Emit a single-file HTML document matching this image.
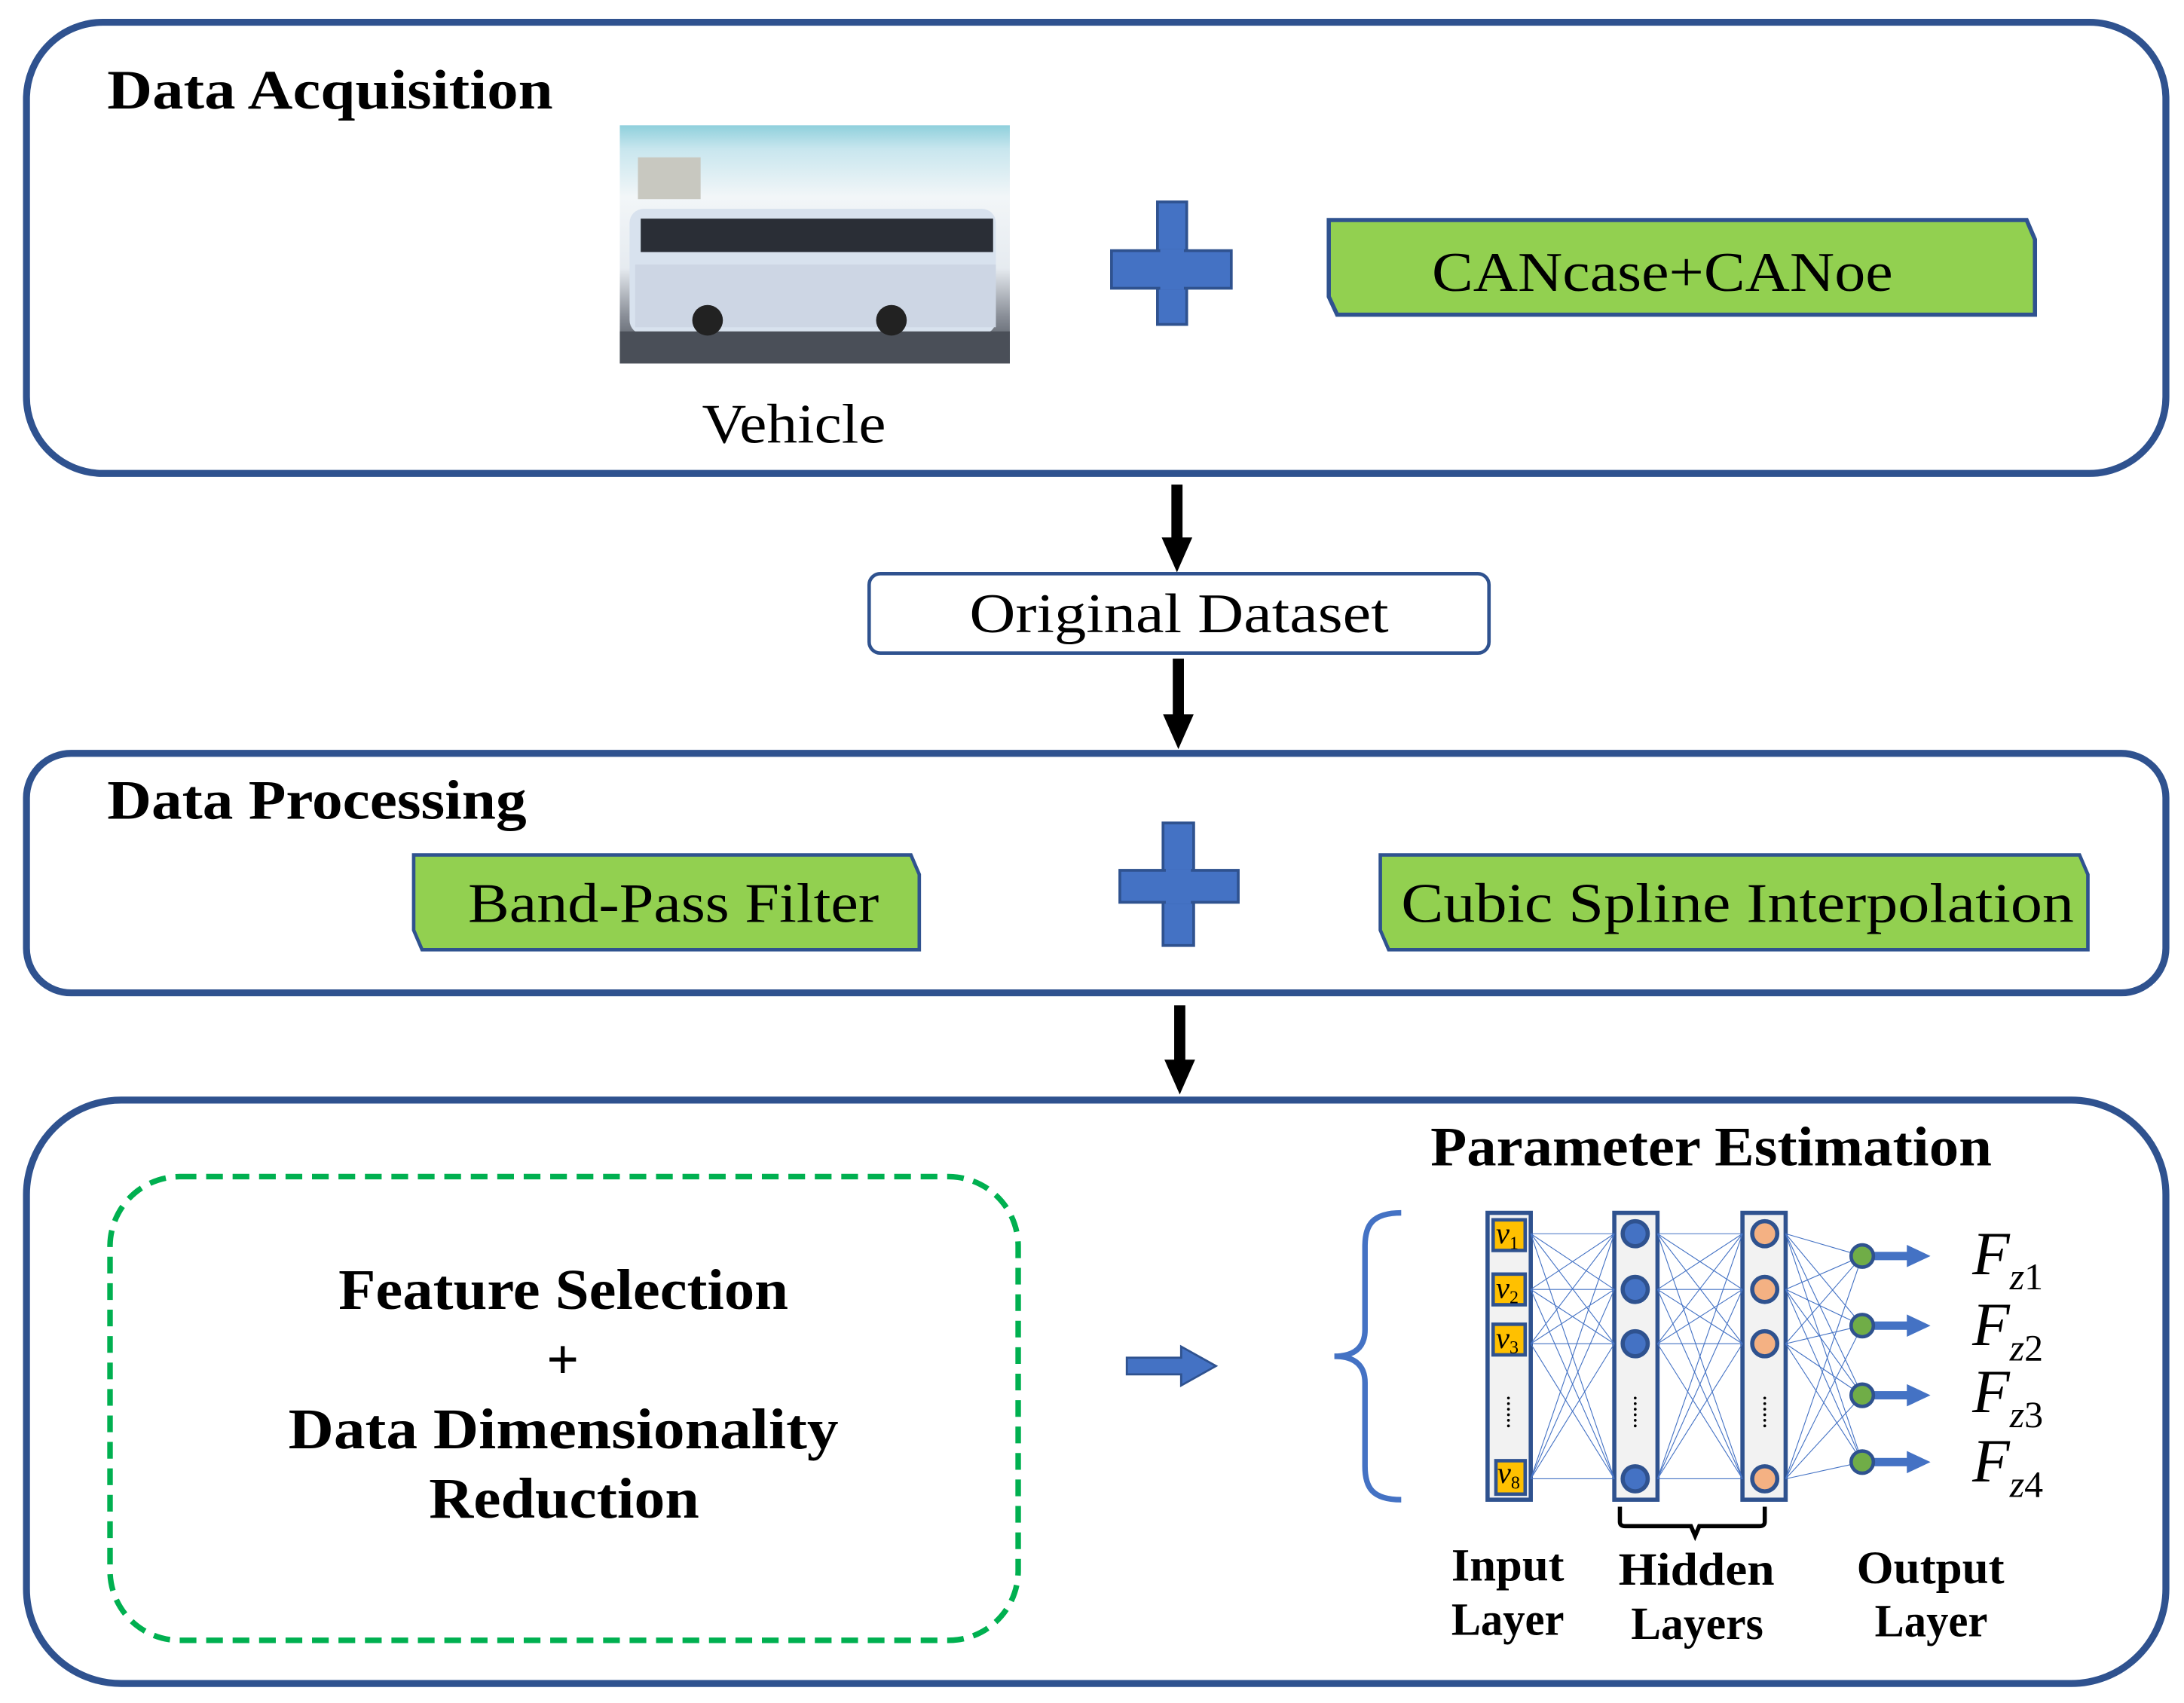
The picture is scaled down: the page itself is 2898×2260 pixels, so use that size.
<!DOCTYPE html>
<html><head><meta charset="utf-8"><style>
html,body{margin:0;padding:0;background:#fff;}
svg{display:block;}
text{font-family:"Liberation Serif",serif;fill:#000;}
</style></head><body>
<svg width="2898" height="2260" viewBox="0 0 1568 1223" preserveAspectRatio="none" xmlns="http://www.w3.org/2000/svg">
<defs>
<linearGradient id="sky" x1="0" y1="0" x2="0" y2="1">
<stop offset="0" stop-color="#8fd0dc"/><stop offset="0.1" stop-color="#c8e6ee"/><stop offset="0.3" stop-color="#f2f6f8"/><stop offset="0.6" stop-color="#e6ebf0"/><stop offset="0.8" stop-color="#8a8f98"/><stop offset="1" stop-color="#3d434d"/>
</linearGradient>
</defs>
<rect x="19" y="16" width="1536" height="324" rx="55" fill="#fff" stroke="#2F528F" stroke-width="5"/>
<text x="77" y="78" font-size="40" font-weight="bold" textLength="320" lengthAdjust="spacingAndGlyphs">Data Acquisition</text>
<rect x="445" y="90" width="280" height="171" fill="url(#sky)"/>
<rect x="458" y="113" width="45" height="30" fill="#c8c8c0"/>
<rect x="452" y="150" width="263" height="90" rx="10" fill="#d8e2ee"/>
<rect x="460" y="157" width="253" height="24" fill="#2a2e36"/>
<rect x="456" y="190" width="259" height="45" fill="#cdd6e4"/>
<rect x="445" y="238" width="280" height="23" fill="#4a4f58"/>
<circle cx="508" cy="230" r="11" fill="#222"/><circle cx="640" cy="230" r="11" fill="#222"/>
<rect x="831" y="145" width="21" height="88" fill="#4472C4" stroke="#2F528F" stroke-width="2"/>
<rect x="798" y="180" width="86" height="27" fill="#4472C4" stroke="#2F528F" stroke-width="2"/>
<rect x="833" y="179" width="17" height="29" fill="#4472C4"/>
<polygon points="954,158 1455,158 1461,172 1461,226 960,226 954,213" fill="#92D050" stroke="#2F528F" stroke-width="3"/>
<text x="1028" y="209" font-size="40" textLength="331" lengthAdjust="spacingAndGlyphs">CANcase+CANoe</text>
<text x="504" y="318" font-size="40" textLength="132" lengthAdjust="spacingAndGlyphs">Vehicle</text>
<rect x="841" y="348" width="8" height="40" fill="#000"/>
<polygon points="834,386 856,386 845,411" fill="#000"/>
<rect x="624" y="412" width="445" height="57" rx="8" fill="#fff" stroke="#2F528F" stroke-width="2.5"/>
<text x="696" y="454" font-size="40" textLength="301" lengthAdjust="spacingAndGlyphs">Original Dataset</text>
<rect x="842" y="473" width="8" height="42" fill="#000"/>
<polygon points="835,513 857,513 846,538" fill="#000"/>
<rect x="19" y="541" width="1536" height="172" rx="32" fill="#fff" stroke="#2F528F" stroke-width="5"/>
<text x="77" y="588" font-size="40" font-weight="bold" textLength="301" lengthAdjust="spacingAndGlyphs">Data Processing</text>
<polygon points="297,614 654,614 660,628 660,682 303,682 297,668" fill="#92D050" stroke="#2F528F" stroke-width="2.5"/>
<text x="336" y="662" font-size="40" textLength="295" lengthAdjust="spacingAndGlyphs">Band-Pass Filter</text>
<rect x="835" y="591" width="22" height="88" fill="#4472C4" stroke="#2F528F" stroke-width="2"/>
<rect x="804" y="625" width="85" height="23" fill="#4472C4" stroke="#2F528F" stroke-width="2"/>
<rect x="837" y="624" width="18" height="25" fill="#4472C4"/>
<polygon points="991,614 1493,614 1499,628 1499,682 997,682 991,668" fill="#92D050" stroke="#2F528F" stroke-width="2.5"/>
<text x="1006" y="662" font-size="40" textLength="483" lengthAdjust="spacingAndGlyphs">Cubic Spline Interpolation</text>
<rect x="843" y="722" width="8" height="40" fill="#000"/>
<polygon points="836,761 858,761 847,786" fill="#000"/>
<rect x="19" y="790" width="1536" height="419" rx="68" fill="#fff" stroke="#2F528F" stroke-width="5"/>
<rect x="79" y="845" width="652" height="333" rx="50" fill="none" stroke="#00B050" stroke-width="4" stroke-dasharray="12,7"/>
<g font-size="41" font-weight="bold">
<text x="243" y="940" textLength="323" lengthAdjust="spacingAndGlyphs">Feature Selection</text>
<text x="404" y="990" text-anchor="middle">+</text>
<text x="207" y="1040" textLength="395" lengthAdjust="spacingAndGlyphs">Data Dimensionality</text>
<text x="308" y="1090" textLength="194" lengthAdjust="spacingAndGlyphs">Reduction</text>
</g>
<polygon points="809,975 848,975 848,967 873,981 848,995 848,987 809,987" fill="#4472C4" stroke="#2F528F" stroke-width="1.5"/>
<text x="1027" y="837" font-size="40" font-weight="bold" textLength="403" lengthAdjust="spacingAndGlyphs">Parameter Estimation</text>
<path d="M1006,871 C985,871 980,880 980,895 L980,955 C980,968 972,974 958,974 C972,974 980,980 980,993 L980,1053 C980,1068 985,1077 1006,1077" fill="none" stroke="#4472C4" stroke-width="4"/>
<rect x="1068" y="871" width="31" height="206" fill="#F2F2F2" stroke="#2F528F" stroke-width="3"/>
<rect x="1159" y="871" width="31" height="206" fill="#F2F2F2" stroke="#2F528F" stroke-width="3"/>
<rect x="1251" y="871" width="31" height="206" fill="#F2F2F2" stroke="#2F528F" stroke-width="3"/>
<g stroke="#4472C4" stroke-width="0.6">
<line x1="1099" y1="886" x2="1159" y2="886"/><line x1="1099" y1="886" x2="1159" y2="926"/><line x1="1099" y1="886" x2="1159" y2="965"/><line x1="1099" y1="886" x2="1159" y2="1062"/>
<line x1="1099" y1="926" x2="1159" y2="886"/><line x1="1099" y1="926" x2="1159" y2="926"/><line x1="1099" y1="926" x2="1159" y2="965"/><line x1="1099" y1="926" x2="1159" y2="1062"/>
<line x1="1099" y1="965" x2="1159" y2="886"/><line x1="1099" y1="965" x2="1159" y2="926"/><line x1="1099" y1="965" x2="1159" y2="965"/><line x1="1099" y1="965" x2="1159" y2="1062"/>
<line x1="1099" y1="1062" x2="1159" y2="886"/><line x1="1099" y1="1062" x2="1159" y2="926"/><line x1="1099" y1="1062" x2="1159" y2="965"/><line x1="1099" y1="1062" x2="1159" y2="1062"/>
<line x1="1190" y1="886" x2="1251" y2="886"/><line x1="1190" y1="886" x2="1251" y2="926"/><line x1="1190" y1="886" x2="1251" y2="965"/><line x1="1190" y1="886" x2="1251" y2="1062"/>
<line x1="1190" y1="926" x2="1251" y2="886"/><line x1="1190" y1="926" x2="1251" y2="926"/><line x1="1190" y1="926" x2="1251" y2="965"/><line x1="1190" y1="926" x2="1251" y2="1062"/>
<line x1="1190" y1="965" x2="1251" y2="886"/><line x1="1190" y1="965" x2="1251" y2="926"/><line x1="1190" y1="965" x2="1251" y2="965"/><line x1="1190" y1="965" x2="1251" y2="1062"/>
<line x1="1190" y1="1062" x2="1251" y2="886"/><line x1="1190" y1="1062" x2="1251" y2="926"/><line x1="1190" y1="1062" x2="1251" y2="965"/><line x1="1190" y1="1062" x2="1251" y2="1062"/>
<line x1="1282" y1="886" x2="1337" y2="902"/><line x1="1282" y1="886" x2="1337" y2="952"/><line x1="1282" y1="886" x2="1337" y2="1002"/><line x1="1282" y1="886" x2="1337" y2="1050"/>
<line x1="1282" y1="926" x2="1337" y2="902"/><line x1="1282" y1="926" x2="1337" y2="952"/><line x1="1282" y1="926" x2="1337" y2="1002"/><line x1="1282" y1="926" x2="1337" y2="1050"/>
<line x1="1282" y1="965" x2="1337" y2="902"/><line x1="1282" y1="965" x2="1337" y2="952"/><line x1="1282" y1="965" x2="1337" y2="1002"/><line x1="1282" y1="965" x2="1337" y2="1050"/>
<line x1="1282" y1="1062" x2="1337" y2="902"/><line x1="1282" y1="1062" x2="1337" y2="952"/><line x1="1282" y1="1062" x2="1337" y2="1002"/><line x1="1282" y1="1062" x2="1337" y2="1050"/>
</g>
<g fill="#FFC000" stroke="#2F528F" stroke-width="2.5">
<rect x="1072" y="876" width="23" height="22"/><rect x="1072" y="915" width="23" height="22"/><rect x="1072" y="951" width="23" height="22"/><rect x="1074" y="1049" width="21" height="24"/>
</g>
<g font-size="22" font-style="italic">
<text x="1074" y="893">v<tspan font-size="13" font-style="normal" dy="4">1</tspan></text>
<text x="1074" y="932">v<tspan font-size="13" font-style="normal" dy="4">2</tspan></text>
<text x="1074" y="968">v<tspan font-size="13" font-style="normal" dy="4">3</tspan></text>
<text x="1075" y="1065">v<tspan font-size="13" font-style="normal" dy="4">8</tspan></text>
</g>
<g fill="#000">
<circle cx="1083" cy="1004" r="1"/><circle cx="1083" cy="1008" r="1"/><circle cx="1083" cy="1012" r="1"/><circle cx="1083" cy="1016" r="1"/><circle cx="1083" cy="1020" r="1"/><circle cx="1083" cy="1024" r="1"/>
<circle cx="1174" cy="1004" r="1"/><circle cx="1174" cy="1008" r="1"/><circle cx="1174" cy="1012" r="1"/><circle cx="1174" cy="1016" r="1"/><circle cx="1174" cy="1020" r="1"/><circle cx="1174" cy="1024" r="1"/>
<circle cx="1267" cy="1004" r="1"/><circle cx="1267" cy="1008" r="1"/><circle cx="1267" cy="1012" r="1"/><circle cx="1267" cy="1016" r="1"/><circle cx="1267" cy="1020" r="1"/><circle cx="1267" cy="1024" r="1"/>
</g>
<g fill="#4472C4" stroke="#2F528F" stroke-width="3">
<circle cx="1174" cy="886" r="9"/><circle cx="1174" cy="926" r="9"/><circle cx="1174" cy="965" r="9"/><circle cx="1174" cy="1062" r="9"/>
</g>
<g fill="#F4B183" stroke="#2F528F" stroke-width="3">
<circle cx="1267" cy="886" r="9"/><circle cx="1267" cy="926" r="9"/><circle cx="1267" cy="965" r="9"/><circle cx="1267" cy="1062" r="9"/>
</g>
<g fill="#4472C4">
<rect x="1345" y="899" width="25" height="6"/><polygon points="1369,894 1386,902 1369,910"/>
<rect x="1345" y="949" width="25" height="6"/><polygon points="1369,944 1386,952 1369,960"/>
<rect x="1345" y="999" width="25" height="6"/><polygon points="1369,994 1386,1002 1369,1010"/>
<rect x="1345" y="1047" width="25" height="6"/><polygon points="1369,1042 1386,1050 1369,1058"/>
</g>
<g fill="#70AD47" stroke="#2F528F" stroke-width="2.5">
<circle cx="1337" cy="902" r="8"/><circle cx="1337" cy="952" r="8"/><circle cx="1337" cy="1002" r="8"/><circle cx="1337" cy="1050" r="8"/>
</g>
<g font-size="44" font-style="italic">
<text x="1416" y="915">F<tspan font-size="27" dy="11">z</tspan><tspan font-size="27" font-style="normal">1</tspan></text>
<text x="1416" y="966">F<tspan font-size="27" dy="11">z</tspan><tspan font-size="27" font-style="normal">2</tspan></text>
<text x="1416" y="1014">F<tspan font-size="27" dy="11">z</tspan><tspan font-size="27" font-style="normal">3</tspan></text>
<text x="1416" y="1064">F<tspan font-size="27" dy="11">z</tspan><tspan font-size="27" font-style="normal">4</tspan></text>
</g>
<path d="M1163,1082 L1163,1093 Q1163,1096 1167,1096 L1214,1096 L1217,1103 L1220,1096 L1263,1096 Q1267,1096 1267,1093 L1267,1082" fill="none" stroke="#000" stroke-width="3"/>
<g font-size="33" font-weight="bold">
<text x="1042" y="1135" textLength="81" lengthAdjust="spacingAndGlyphs">Input</text><text x="1042" y="1174" textLength="81" lengthAdjust="spacingAndGlyphs">Layer</text>
<text x="1162" y="1138" textLength="112" lengthAdjust="spacingAndGlyphs">Hidden</text><text x="1171" y="1177" textLength="95" lengthAdjust="spacingAndGlyphs">Layers</text>
<text x="1333" y="1137" textLength="106" lengthAdjust="spacingAndGlyphs">Output</text><text x="1346" y="1175" textLength="81" lengthAdjust="spacingAndGlyphs">Layer</text>
</g>
</svg>
</body></html>
